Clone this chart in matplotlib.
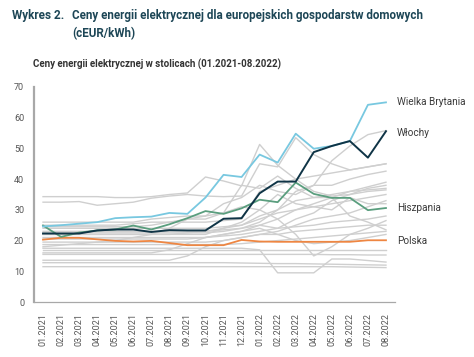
import numpy as np
import matplotlib
matplotlib.use("Agg")
import matplotlib.pyplot as plt

plt.rcParams['font.family'] = ['Roboto', 'DejaVu Sans']

# months on the x axis
months = ['01.2021', '02.2021', '03.2021', '04.2021', '05.2021', '06.2021', '07.2021',
          '08.2021', '09.2021', '10.2021', '11.2021', '12.2021', '01.2022', '02.2022',
          '03.2022', '04.2022', '05.2022', '06.2022', '07.2022', '08.2022']

# highlighted capitals (cEUR/kWh)
uk = [24.6, 25.0, 25.5, 26.0, 27.3, 27.6, 27.8, 29.0, 28.7, 34.0,
      41.4, 40.7, 48.0, 45.4, 54.8, 49.9, 50.8, 52.4, 64.2, 65.0]
wlochy = [22.3, 22.3, 22.3, 23.3, 23.6, 23.6, 22.8, 23.4, 23.3, 23.3,
          27.1, 27.3, 35.4, 39.2, 39.2, 48.8, 50.8, 52.4, 47.0, 55.6]
hiszpania = [24.9, 21.2, 22.6, 23.3, 23.6, 24.9, 23.6, 25.3, 27.3, 29.6,
             28.7, 30.5, 33.3, 32.5, 38.9, 35.2, 33.9, 33.9, 29.9, 30.6]
polska = [20.3, 20.9, 20.9, 20.4, 19.9, 19.7, 19.9, 19.2, 18.5, 18.5,
          18.5, 20.2, 19.7, 19.6, 19.6, 19.6, 19.6, 19.6, 20.1, 20.1]

# other capitals (grey background lines)
others = [
    [34.3, 34.3, 34.3, 34.3, 34.0, 34.0, 34.3, 35.0, 35.5, 40.7, 39.4, 37.8, 51.3, 44.5, 40.0, 36.0, 34.5, 35.0, 37.0, 38.0],
    [32.5, 32.5, 32.7, 31.5, 32.0, 32.5, 33.8, 34.5, 35.0, 34.5, 34.3, 34.5, 45.0, 44.0, 53.5, 48.0, 45.0, 43.0, 44.0, 45.0],
    [11.5, 11.5, 11.5, 11.5, 11.5, 11.5, 11.5, 11.5, 11.5, 11.5, 11.5, 11.5, 11.5, 11.5, 11.5, 11.5, 11.5, 11.4, 11.3, 11.2],
    [12.8, 12.8, 12.8, 12.8, 12.8, 12.8, 12.8, 12.8, 12.8, 12.8, 12.8, 12.7, 12.6, 12.5, 12.5, 12.4, 12.3, 12.2, 12.1, 12.0],
    [13.6, 13.6, 13.6, 13.6, 13.6, 13.6, 13.6, 13.6, 15.0, 18.0, 20.0, 21.0, 22.0, 23.0, 25.0, 27.0, 28.0, 29.0, 31.0, 33.0],
    [15.5, 15.5, 15.5, 15.5, 15.5, 15.5, 15.5, 15.5, 15.5, 15.5, 15.5, 15.5, 15.5, 15.5, 15.5, 15.5, 15.4, 15.4, 15.3, 15.3],
    [16.9, 16.9, 16.9, 16.9, 16.9, 16.9, 16.9, 16.9, 16.9, 16.9, 16.9, 16.9, 16.9, 16.9, 16.9, 16.9, 16.9, 16.9, 16.9, 16.9],
    [17.5, 17.5, 17.5, 17.5, 17.5, 17.5, 17.5, 17.5, 17.5, 17.5, 17.5, 17.5, 17.0, 9.5, 9.5, 9.5, 14.0, 14.0, 13.5, 13.0],
    [18.7, 18.7, 18.7, 18.7, 18.7, 18.7, 18.7, 18.7, 18.7, 18.7, 18.7, 19.0, 19.5, 20.0, 20.5, 21.0, 21.5, 22.0, 22.5, 23.0],
    [19.5, 19.5, 19.5, 19.5, 19.5, 19.5, 19.5, 19.5, 19.5, 19.5, 20.0, 21.0, 22.0, 22.0, 23.0, 23.5, 24.0, 24.5, 25.0, 25.0],
    [21.0, 21.0, 21.0, 21.0, 21.0, 21.0, 21.0, 21.0, 21.0, 21.0, 21.5, 22.0, 23.0, 24.0, 24.5, 25.0, 26.0, 26.5, 27.0, 28.0],
    [22.0, 22.0, 22.0, 22.0, 22.0, 22.0, 22.0, 22.0, 22.5, 23.0, 24.0, 25.0, 27.0, 29.0, 30.0, 31.0, 32.0, 33.0, 34.0, 35.0],
    [22.5, 22.5, 22.5, 22.5, 22.5, 22.5, 22.5, 22.5, 22.5, 22.5, 23.0, 24.0, 26.0, 30.0, 33.0, 34.0, 35.0, 36.0, 36.5, 37.0],
    [23.0, 23.0, 23.0, 23.0, 23.0, 23.0, 23.0, 23.0, 23.0, 23.0, 23.5, 24.0, 25.0, 27.0, 30.0, 32.0, 34.0, 36.0, 37.5, 39.0],
    [24.0, 24.0, 24.0, 24.0, 24.0, 24.0, 24.0, 24.0, 24.0, 24.0, 24.5, 25.0, 28.0, 30.0, 36.0, 38.0, 38.0, 40.0, 41.5, 42.6],
    [25.0, 25.0, 25.0, 25.0, 25.0, 25.5, 26.0, 26.0, 26.0, 26.0, 26.5, 27.0, 36.0, 38.0, 40.0, 41.0, 42.0, 43.0, 44.0, 45.0],
    [26.0, 26.0, 26.0, 26.0, 26.0, 26.0, 27.0, 27.5, 28.0, 28.0, 32.0, 34.0, 38.0, 36.0, 35.0, 38.0, 46.0, 50.8, 54.5, 55.8],
    [24.5, 24.5, 24.5, 24.5, 24.5, 24.5, 25.0, 26.0, 27.0, 28.0, 29.0, 31.0, 30.0, 27.0, 22.0, 15.0, 18.0, 22.0, 24.0, 26.5],
    [22.0, 22.0, 22.0, 22.0, 22.0, 22.0, 22.0, 22.0, 22.0, 22.0, 24.0, 26.0, 30.0, 35.0, 32.0, 31.0, 30.0, 34.0, 32.0, 32.0],
    [18.0, 18.5, 19.0, 19.5, 20.0, 21.0, 22.0, 24.0, 27.0, 27.0, 29.0, 38.0, 37.0, 41.0, 37.0, 34.0, 34.0, 28.0, 26.0, 23.5],
    [16.0, 16.0, 16.0, 16.0, 16.0, 16.0, 16.0, 17.0, 19.0, 21.0, 22.0, 23.0, 24.0, 22.0, 20.0, 19.0, 19.5, 20.0, 21.0, 22.0],
    [20.5, 20.5, 20.5, 20.5, 20.5, 20.5, 20.5, 20.5, 20.5, 21.0, 22.0, 23.0, 25.0, 24.0, 27.0, 29.0, 33.0, 35.0, 36.0, 36.5],
]

fig = plt.figure(figsize=(4.74, 3.57), dpi=100)
ax = fig.add_axes([34 / 474, 1 - 302 / 357, 361 / 474, 215 / 357])

x = np.arange(len(months))
for s in others:
    ax.plot(x, s, color='#cfcfcf', lw=1.0, zorder=1)

ax.plot(x, polska, color='#ee8642', lw=1.3, zorder=3)
ax.plot(x, hiszpania, color='#5a9e7e', lw=1.3, zorder=3)
ax.plot(x, uk, color='#78c8e0', lw=1.3, zorder=3)
ax.plot(x, wlochy, color='#0f3446', lw=1.4, zorder=4)

lab_kw = dict(fontsize=7.2, color='#3a3a3a', ha='left', va='center', clip_on=False)
ax.text(19.6, 65.0, 'Wielka Brytania', **lab_kw)
ax.text(19.6, 55.0, 'Włochy', **lab_kw)
ax.text(19.6, 30.5, 'Hiszpania', **lab_kw)
ax.text(19.6, 19.8, 'Polska', **lab_kw)

ax.set_xlim(-0.5, 19.5)
ax.set_ylim(0, 70)
ax.set_yticks(range(0, 71, 10))
ax.set_xticks(x)
ax.set_xticklabels(months, rotation=90)
ax.tick_params(length=0, labelsize=6.5, labelcolor='#555555')
ax.tick_params(axis='y', pad=7)
ax.tick_params(axis='x', pad=8)
for side in ['top', 'right']:
    ax.spines[side].set_visible(False)
ax.spines['left'].set_color('#a8a8a8')
ax.spines['left'].set_linewidth(1.6)
ax.spines['bottom'].set_color('#a8a8a8')
ax.spines['bottom'].set_linewidth(0.9)

title_c = '#1d4656'
fig.text(12 / 474, 1 - 15 / 357, 'Wykres 2.', fontsize=8.5, fontweight='bold',
         color=title_c, va='center')
fig.text(72 / 474, 1 - 15 / 357, 'Ceny energii elektrycznej dla europejskich gospodarstw domowych',
         fontsize=8.4, fontweight='bold', color=title_c, va='center')
fig.text(72 / 474, 1 - 34 / 357, '(cEUR/kWh)', fontsize=8.4, fontweight='bold',
         color=title_c, va='center')
fig.text(33 / 474, 1 - 64 / 357, 'Ceny energii elektrycznej w stolicach (01.2021-08.2022)',
         fontsize=7, fontweight='bold', color='#333333', va='center')

fig.savefig('out.png', dpi=100)
